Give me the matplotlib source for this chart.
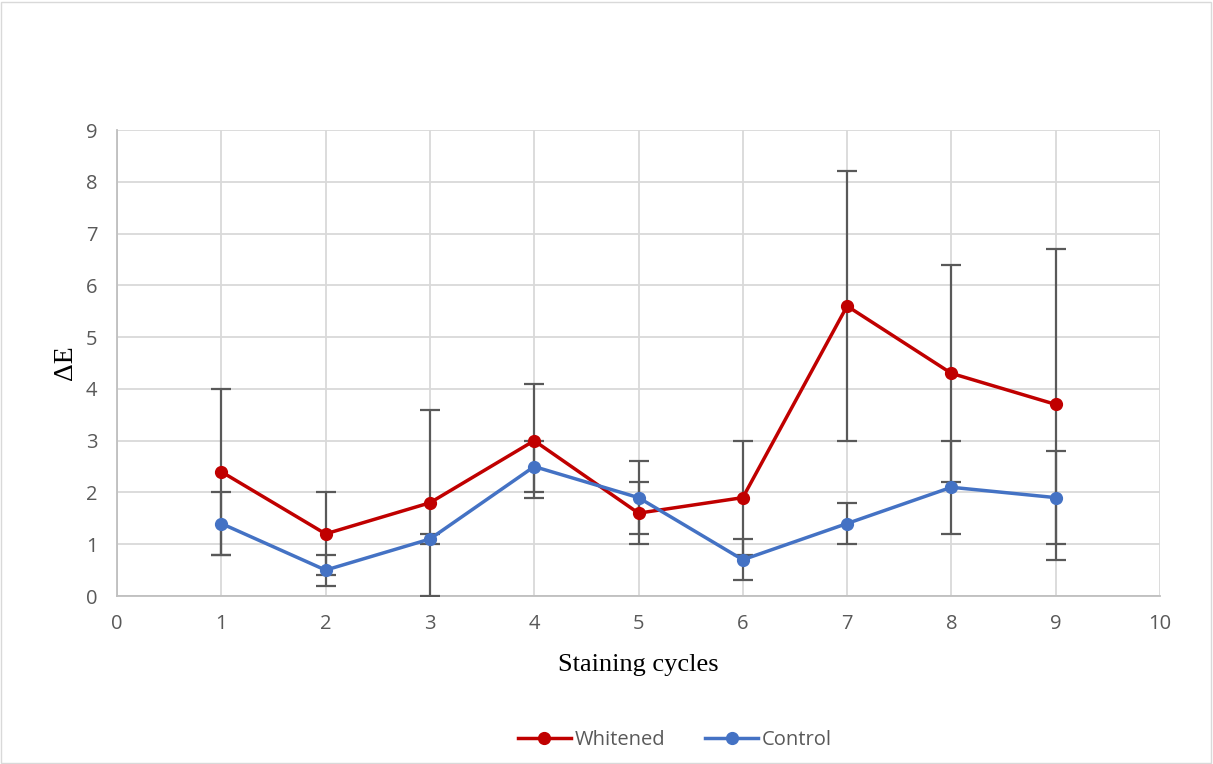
import matplotlib
matplotlib.use("Agg")
import matplotlib.pyplot as plt
from matplotlib.patches import Rectangle

cycles = [1, 2, 3, 4, 5, 6, 7, 8, 9]
whitened = [2.4, 1.2, 1.8, 3.0, 1.6, 1.9, 5.6, 4.3, 3.7]
whitened_err = [1.6, 0.8, 1.8, 1.1, 0.6, 1.1, 2.6, 2.1, 3.0]
control = [1.4, 0.5, 1.1, 2.5, 1.9, 0.7, 1.4, 2.1, 1.9]
control_err = [0.6, 0.3, 0.1, 0.5, 0.7, 0.4, 0.4, 0.9, 0.9]
xticks = list(range(0, 11))
yticks = list(range(0, 10))

W, H = 1213, 764
fig = plt.figure(figsize=(W / 100, H / 100), dpi=100)
fig.patches.append(Rectangle((1 / W, 1 / H), 1 - 3 / W, 1 - 3 / H, transform=fig.transFigure,
                             fill=False, edgecolor="#D9D9D9", linewidth=1))
ax = fig.add_axes([117 / W, 1 - 596 / H, (1160 - 117) / W, (596 - 130) / H])

ax.set_xlim(0, 10)
ax.set_ylim(0, 9)
ax.set_xticks(xticks)
ax.set_yticks(yticks)
ax.grid(True, color="#D9D9D9", linewidth=1.3)
ax.set_axisbelow(True)
for s in ["top", "right"]:
    ax.spines[s].set_visible(False)
for s in ["left", "bottom"]:
    ax.spines[s].set_color("#BFBFBF")
    ax.spines[s].set_linewidth(1.3)
ax.tick_params(axis="x", length=0, pad=13, labelsize=14.5, colors="#595959")
ax.tick_params(axis="y", length=0, pad=14, labelsize=14.5, colors="#595959")
for lab in ax.get_xticklabels() + ax.get_yticklabels():
    lab.set_fontfamily("Open Sans")

ax.errorbar(cycles, whitened, yerr=whitened_err, color="#C00000", linewidth=2.5,
            marker="o", markersize=8.5, ecolor="#595959", elinewidth=1.6, capsize=7,
            capthick=1.6, label="Whitened", zorder=3)
ax.errorbar(cycles, control, yerr=control_err, color="#4472C4", linewidth=2.5,
            marker="o", markersize=8.5, ecolor="#595959", elinewidth=1.6, capsize=7,
            capthick=1.6, label="Control", zorder=3)

ax.set_xlabel("Staining cycles", fontfamily="Liberation Serif", fontsize=19, labelpad=14)
ax.set_ylabel("ΔE", fontfamily="Liberation Serif", fontsize=20, labelpad=6)

handles, labels = ax.get_legend_handles_labels()
handles = [h[0] for h in handles]
leg = fig.legend(handles, labels, loc="center", bbox_to_anchor=(675 / W, 1 - 740 / H),
                 ncol=2, frameon=False, handlelength=2.6, columnspacing=2.0,
                 handletextpad=0.2, prop={"family": "Open Sans", "size": 14.5})
for t in leg.get_texts():
    t.set_color("#595959")

fig.savefig("out.png", dpi=100)
